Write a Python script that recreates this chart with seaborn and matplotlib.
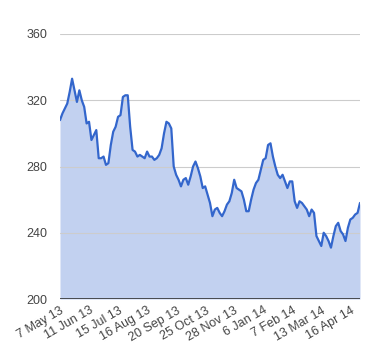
import matplotlib
matplotlib.use('Agg')
import matplotlib.pyplot as plt
import numpy as np
import pandas as pd
import seaborn as sns

# price sampled every other trading day, 7 May 13 -> end of Apr 14
prices = [
    308, 312, 315, 318, 325, 333, 326, 319, 326, 320,
    316, 306, 307, 296, 299, 302, 285, 285, 286, 281,
    282, 293, 301, 304, 310, 311, 322, 323, 323, 304,
    290, 289, 286, 287, 286, 285, 289, 286, 286, 284,
    285, 287, 291, 300, 307, 306, 303, 280, 275, 272,
    268, 272, 273, 269, 274, 280, 283, 279, 274, 267,
    268, 263, 258, 250, 254, 255, 252, 250, 253, 257,
    259, 264, 272, 267, 266, 265, 260, 253, 253, 260,
    266, 270, 272, 278, 284, 285, 293, 294, 286, 280,
    275, 273, 275, 271, 267, 271, 271, 259, 255, 259,
    258, 256, 254, 250, 254, 252, 238, 235, 232, 240,
    238, 235, 231, 238, 244, 246, 241, 239, 235, 243,
    248, 249, 251, 252, 258,
]
tick_labels = ['7 May 13', '11 Jun 13', '15 Jul 13', '16 Aug 13', '20 Sep 13',
               '25 Oct 13', '28 Nov 13', '6 Jan 14', '7 Feb 14', '13 Mar 14',
               '16 Apr 14']
tick_step = 12
y_ticks = [200, 240, 280, 320, 360]

line_color = '#3366cc'
fill_color = '#c2d1f0'
text_color = '#444444'

df = pd.DataFrame({'idx': np.arange(len(prices)), 'price': prices})

sns.set_style('white')
plt.rcParams['font.family'] = ['Liberation Sans', 'DejaVu Sans']

fig = plt.figure(figsize=(3.8, 3.6), dpi=100)
ax = fig.add_axes([60 / 380, 1 - 299 / 360, 300 / 380, 265 / 360])

ax.fill_between(df['idx'], 200, df['price'], color=fill_color, lw=0, zorder=1)
sns.lineplot(data=df, x='idx', y='price', color=line_color, lw=1.6, ax=ax, zorder=3)

ax.set_xlim(0, len(prices) - 1)
ax.set_ylim(200, 360)
ax.set_yticks(y_ticks)
ax.set_yticklabels([str(v) for v in y_ticks], fontsize=9, color=text_color)
for v in y_ticks[1:]:
    ax.axhline(v, color='#cccccc', lw=0.8, zorder=2)
ax.axhline(200, color='#333333', lw=1.2, zorder=4)

ax.set_xticks(np.arange(len(tick_labels)) * tick_step)
ax.set_xticklabels(tick_labels, fontsize=9, color=text_color, rotation=30,
                   ha='right', va='top', rotation_mode='anchor')
ax.tick_params(axis='both', length=0)
ax.tick_params(axis='y', pad=9)
ax.tick_params(axis='x', pad=4)
for s in ax.spines.values():
    s.set_visible(False)
ax.set_xlabel('')
ax.set_ylabel('')

fig.savefig('out.png', dpi=100)
plt.close(fig)
